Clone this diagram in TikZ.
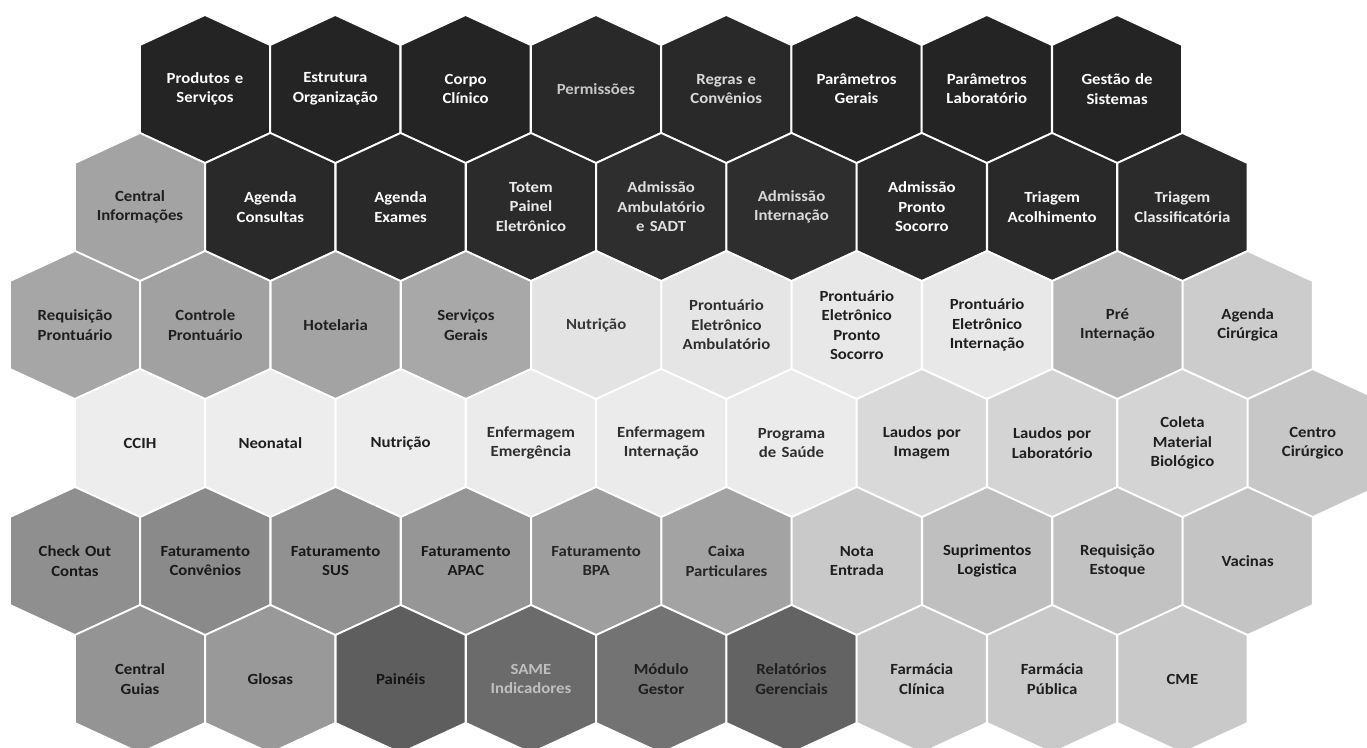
\documentclass[tikz,border=0pt]{standalone}
\usepackage{fontspec}
\setmainfont{Carlito}[FakeStretch=1.08]

% one hexagonal cell: name, x, y, fill, text colour, label
\newcommand{\hexcell}[6]{%
  \path[hexedge, fill=#4, shift={(#2,#3)}]
    (0,-74) -- (65,-44) -- (65,44) -- (0,74) -- (-65,44) -- (-65,-44) -- cycle;
  \node[cell, text=#5] (#1) at (#2,#3) {#6};}

\begin{document}
\begin{tikzpicture}[
    x=1pt, y=-1pt,
    every node/.style={font=\bfseries\fontsize{15.5}{19.5}\selectfont, align=center},
    cell/.style={inner sep=0pt, text width=124pt},
    hexedge/.style={draw=white, line width=1.8pt, line join=miter}
]
\clip (0,0) rectangle (1367,747);
\fill[white] (0,0) rectangle (1367,747);

% row 1 -- configuration
\foreach \lbl/\shade/\ink [count=\i from 0] in {
    {Produtos e\\Serviços}/black!86/white,
    {Estrutura\\Organização}/black!86/white,
    {Corpo\\Clínico}/black!86/white,
    {Permissões}/black!84/white!78!black,
    {Regras e\\Convênios}/black!84/white!85!black,
    {Parâmetros\\Gerais}/black!86/white,
    {Parâmetros\\Laboratório}/black!86/white,
    {Gestão de\\Sistemas}/black!86/white}
  \hexcell{r1c\i}{205+130.3*\i}{89}{\shade}{\ink}{\lbl};

% row 2 -- reception
\foreach \lbl/\shade/\ink [count=\i from 0] in {
    {Central\\Informações}/black!36/black!88,
    {Agenda\\Consultas}/black!84/white,
    {Agenda\\Exames}/black!84/white,
    {Totem\\Painel\\Eletrônico}/black!83/white!92!black,
    {Admissão\\Ambulatório\\e SADT}/black!82/white!88!black,
    {Admissão\\Internação}/black!82/white!85!black,
    {Admissão\\Pronto\\Socorro}/black!84/white,
    {Triagem\\Acolhimento}/black!84/white,
    {Triagem\\Classificatória}/black!83/white!92!black}
  \hexcell{r2c\i}{140+130.3*\i}{207}{\shade}{\ink}{\lbl};

% row 3 -- records
\foreach \lbl/\shade/\ink [count=\i from 0] in {
    {Requisição\\Prontuário}/black!35/black!88,
    {Controle\\Prontuário}/black!37/black!88,
    {Hotelaria}/black!36/black!88,
    {Serviços\\Gerais}/black!34/black!88,
    {Nutrição}/black!11/black!78,
    {Prontuário\\Eletrônico\\Ambulatório}/black!10/black!82,
    {Prontuário\\Eletrônico\\Pronto\\Socorro}/black!9/black!88,
    {Prontuário\\Eletrônico\\Internação}/black!9/black!88,
    {Pré\\Internação}/black!28/black!88,
    {Agenda\\Cirúrgica}/black!20/black!88}
  \hexcell{r3c\i}{75+130.3*\i}{325}{\shade}{\ink}{\lbl};

% row 4 -- care
\foreach \lbl/\shade/\ink [count=\i from 0] in {
    {CCIH}/black!7/black!88,
    {Neonatal}/black!7/black!88,
    {Nutrição}/black!7/black!88,
    {Enfermagem\\Emergência}/black!8/black!82,
    {Enfermagem\\Internação}/black!8/black!82,
    {Programa\\de Saúde}/black!8/black!82,
    {Laudos por\\Imagem}/black!15/black!88,
    {Laudos por\\Laboratório}/black!17/black!88,
    {Coleta\\Material\\Biológico}/black!17/black!88,
    {Centro\\Cirúrgico}/black!22/black!88}
  \hexcell{r4c\i}{140+130.3*\i}{443}{\shade}{\ink}{\lbl};

% row 5 -- billing and supplies
\foreach \lbl/\shade/\ink [count=\i from 0] in {
    {Check Out\\Contas}/black!44/black!90,
    {Faturamento\\Convênios}/black!46/black!90,
    {Faturamento\\SUS}/black!43/black!90,
    {Faturamento\\APAC}/black!41/black!90,
    {Faturamento\\BPA}/black!38/black!85,
    {Caixa\\Particulares}/black!36/black!85,
    {Nota\\Entrada}/black!21/black!88,
    {Suprimentos\\Logistica}/black!25/black!90,
    {Requisição\\Estoque}/black!24/black!88,
    {Vacinas}/black!23/black!88}
  \hexcell{r5c\i}{75+130.3*\i}{561}{\shade}{\ink}{\lbl};

% row 6 -- management and pharmacy
\foreach \lbl/\shade/\ink [count=\i from 0] in {
    {Central\\Guias}/black!42/black!90,
    {Glosas}/black!40/black!90,
    {Painéis}/black!63/black!92,
    {SAME\\Indicadores}/black!58/black!25,
    {Módulo\\Gestor}/black!55/black!88,
    {Relatórios\\Gerenciais}/black!61/black!88,
    {Farmácia\\Clínica}/black!22/black!88,
    {Farmácia\\Pública}/black!21/black!88,
    {CME}/black!21/black!88}
  \hexcell{r6c\i}{140+130.3*\i}{679}{\shade}{\ink}{\lbl};
\end{tikzpicture}
\end{document}
